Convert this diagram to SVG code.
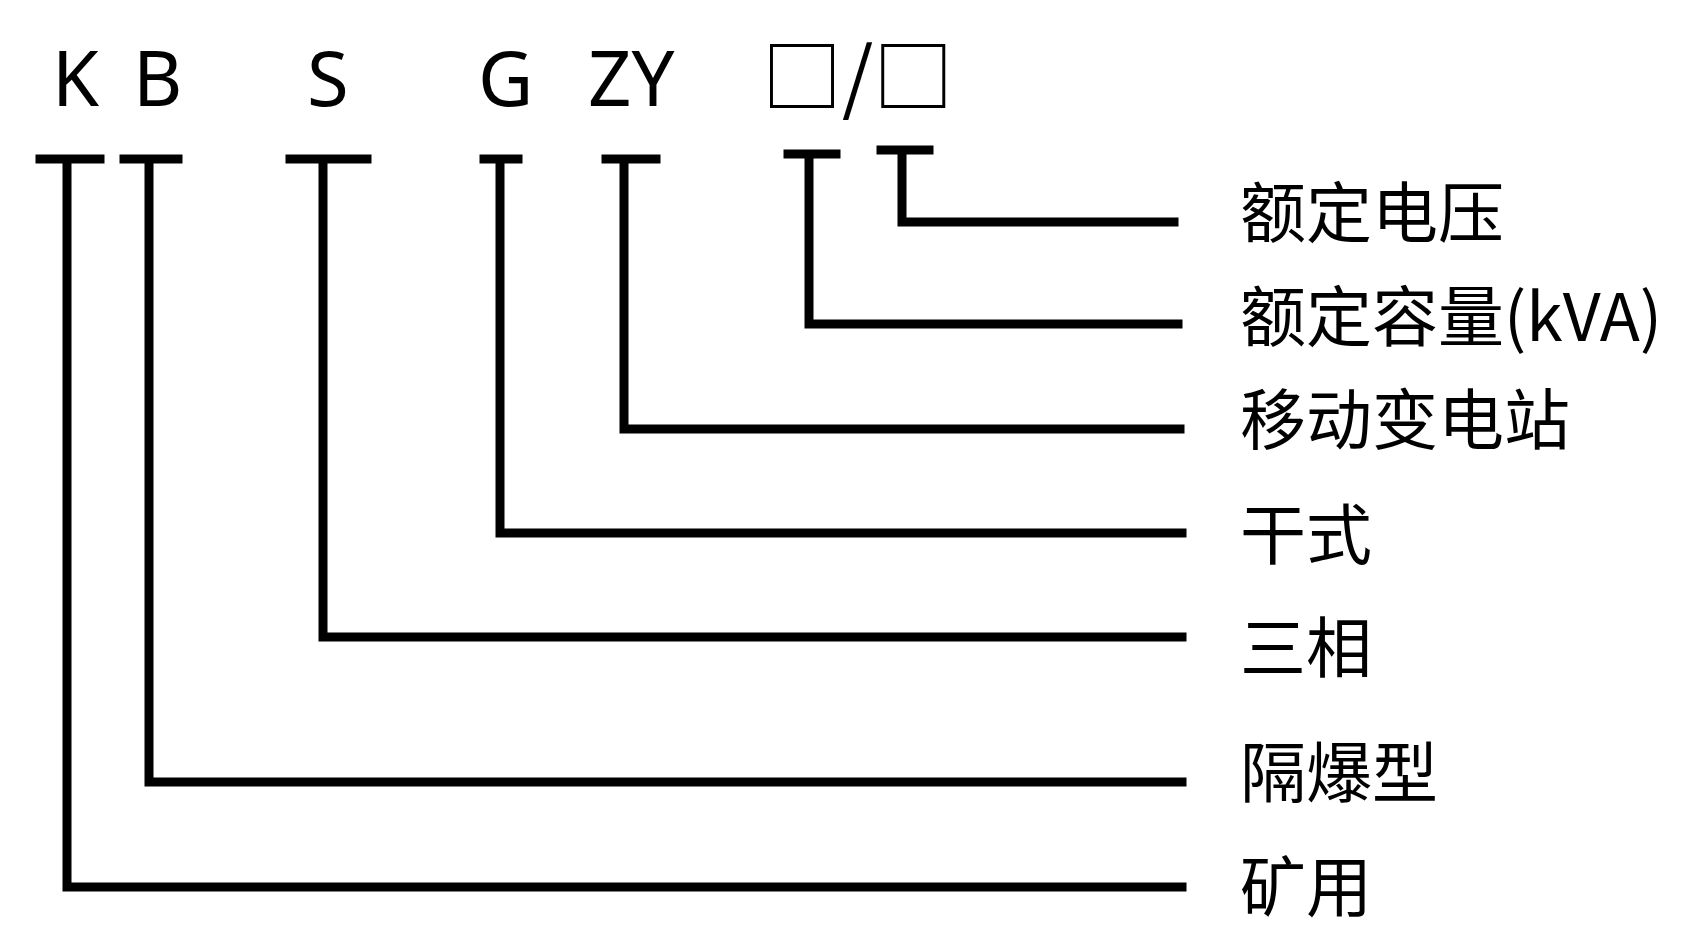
<svg xmlns="http://www.w3.org/2000/svg" width="1704" height="947" viewBox="0 0 1704 947">
<style>
.c{fill:none;stroke:#000;stroke-width:9;stroke-linecap:square}
.l{font-family:"Noto Sans","Noto Sans CJK SC",sans-serif;font-size:76px;fill:#000}
.t{font-family:"Noto Sans CJK SC","Noto Sans",sans-serif;font-size:66px;fill:#000}
</style>
<rect width="1704" height="947" fill="#fff"/>
<g id="code">
<text class="l" x="52" y="106">K</text>
<text class="l" x="133" y="106">B</text>
<text class="l" x="307" y="106">S</text>
<text class="l" x="478" y="106">G</text>
<text class="l" x="588" y="106">ZY</text>
<text class="l" x="762" y="106" style="font-family:'Noto Sans CJK SC',sans-serif;font-size:80px">□/□</text>
</g>
<g id="connectors">
<path class="c" d="M40 159H100M67 159V887H1182"/>
<path class="c" d="M124 159H178M149 159V782H1182"/>
<path class="c" d="M290 159H367M323 159V637H1182"/>
<path class="c" d="M484 159H518M500 159V533H1182"/>
<path class="c" d="M606 159H656M624 159V429H1180"/>
<path class="c" d="M788 154H836M809 154V324H1178"/>
<path class="c" d="M881 150H929M902 150V222H1174"/>
</g>
<g id="labels">
<text class="t" x="1240" y="237">额定电压</text>
<text class="t" x="1240" y="341">额定容量(kVA)</text>
<text class="t" x="1240" y="444">移动变电站</text>
<text class="t" x="1240" y="559">干式</text>
<text class="t" x="1240" y="672">三相</text>
<text class="t" x="1240" y="797">隔爆型</text>
<text class="t" x="1240" y="911">矿用</text>
</g>
</svg>
